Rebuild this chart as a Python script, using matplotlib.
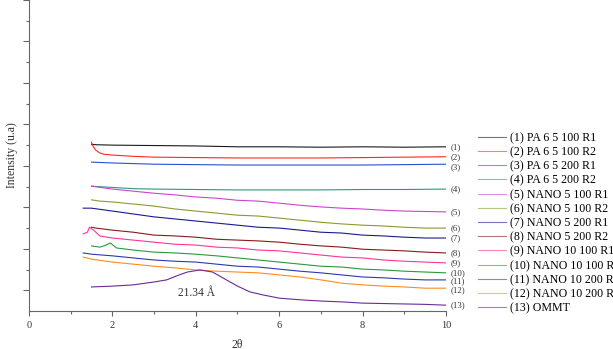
import matplotlib
matplotlib.use("Agg")
import matplotlib.pyplot as plt
from matplotlib.ticker import MultipleLocator, FixedLocator
from matplotlib.lines import Line2D

plt.rcParams['font.family'] = ['Liberation Serif', 'DejaVu Serif']

labels = ["(1) PA 6 5 100 R1", "(2) PA 6 5 100 R2", "(3) PA 6 5 200 R1",
          "(4) PA 6 5 200 R2", "(5) NANO 5 100 R1", "(6) NANO 5 100 R2",
          "(7) NANO 5 200 R1", "(8) NANO 5 200 R2", "(9) NANO 10 100 R1",
          "(10) NANO 10 100 R2", "(11) NANO 10 200 R1", "(12) NANO 10 200 R2",
          "(13) OMMT"]
short = ["(1)", "(2)", "(3)", "(4)", "(5)", "(6)", "(7)", "(8)", "(9)",
         "(10)", "(11)", "(12)", "(13)"]
colors = ['#1a1a1a', '#ff2a1a', '#2a4fd0', '#2a9a80', '#cc44cc', '#8c9a2a',
          '#1a1a90', '#8a1a1a', '#ff3399', '#2a9a3a', '#2a3ab0', '#ff8c1a',
          '#6a2a9a']

x1 = [1.5, 1.6, 2, 3, 4, 5, 6, 7, 8, 9, 10]
y1 = [4.02, 4.01, 4.00, 3.99, 3.98, 3.96, 3.96, 3.95, 3.96, 3.95, 3.96]
x2 = [1.5, 1.52, 1.6, 1.7, 1.8, 2, 2.5, 3, 4, 5, 6, 7, 8, 9, 10]
y2 = [4.07, 4.00, 3.88, 3.81, 3.78, 3.76, 3.73, 3.71, 3.70, 3.69, 3.69, 3.69, 3.70, 3.71, 3.72]
x3 = [1.5, 2, 3, 4, 5, 6, 7, 8, 9, 10]
y3 = [3.59, 3.57, 3.54, 3.53, 3.52, 3.52, 3.52, 3.52, 3.53, 3.54]
x4 = [1.5, 2, 2.5, 3, 4, 5, 6, 7, 8, 9, 10]
y4 = [3.01, 2.98, 2.95, 2.94, 2.93, 2.92, 2.92, 2.92, 2.93, 2.93, 2.94]

xs = [1.5, 2, 2.5, 3, 3.5, 4, 4.5, 5, 5.5, 6, 6.5, 7, 7.5, 8, 8.5, 9, 9.5, 10]
y5 = [3.01, 2.94, 2.89, 2.84, 2.80, 2.75, 2.72, 2.67, 2.65, 2.60, 2.55, 2.51,
      2.48, 2.46, 2.43, 2.41, 2.40, 2.39]
x6 = [1.5, 1.7] + xs[1:]
y6 = [2.68, 2.65, 2.63, 2.58, 2.53, 2.46, 2.41, 2.36, 2.31, 2.29, 2.24, 2.19,
      2.14, 2.10, 2.07, 2.05, 2.02, 2.00, 2.00]
x7 = [1.3] + xs
y7 = [2.48, 2.48, 2.41, 2.34, 2.27, 2.22, 2.17, 2.12, 2.07, 2.02, 2.00, 1.95,
      1.90, 1.88, 1.83, 1.81, 1.78, 1.76, 1.76]
x8 = [1.5, 1.6] + xs[1:]
y8 = [2.02, 2.00, 1.95, 1.90, 1.83, 1.81, 1.78, 1.73, 1.71, 1.69, 1.66, 1.61,
      1.57, 1.54, 1.49, 1.47, 1.45, 1.42, 1.40]
x9 = [1.3, 1.4, 1.45, 1.55, 1.7] + xs[1:]
y9 = [1.86, 1.90, 2.02, 1.95, 1.81, 1.76, 1.71, 1.66, 1.61, 1.59, 1.54, 1.52,
      1.47, 1.45, 1.40, 1.35, 1.30, 1.28, 1.23, 1.20, 1.18, 1.16]
x10 = [1.5, 1.7, 1.8, 1.95, 2.1] + xs[2:]
y10 = [1.57, 1.54, 1.57, 1.64, 1.52, 1.47, 1.42, 1.40, 1.37, 1.33, 1.28, 1.23,
       1.18, 1.13, 1.08, 1.06, 1.01, 0.99, 0.96, 0.94, 0.92]
x11 = [1.3] + xs
y11 = [1.40, 1.37, 1.33, 1.28, 1.23, 1.20, 1.18, 1.13, 1.08, 1.06, 1.01, 0.96,
       0.92, 0.87, 0.82, 0.80, 0.77, 0.75, 0.75]
x12 = [1.3] + xs
y12 = [1.30, 1.25, 1.18, 1.13, 1.08, 1.04, 0.99, 0.96, 0.94, 0.92, 0.87, 0.82,
       0.75, 0.67, 0.63, 0.60, 0.58, 0.55, 0.55]
x13 = [1.5, 2, 2.5, 3, 3.3, 3.6, 3.8, 4.1, 4.4, 4.7, 5.0, 5.3, 5.6, 6, 6.5,
       7, 7.5, 8, 8.5, 9, 9.5, 10]
y13 = [0.58, 0.60, 0.63, 0.70, 0.75, 0.87, 0.94, 0.99, 0.94, 0.77, 0.60, 0.46,
       0.39, 0.31, 0.27, 0.24, 0.22, 0.19, 0.18, 0.17, 0.16, 0.14]

series_x = [x1, x2, x3, x4, xs, x6, x7, x8, x9, x10, x11, x12, x13]
series_y = [y1, y2, y3, y4, y5, y6, y7, y8, y9, y10, y11, y12, y13]
label_dy = [0, 0, -2.2, 0, 0, 0, 0, 0, 0, 0, -0.7, -1.5, 0]

fig = plt.figure(figsize=(6.13, 3.49), dpi=100)
ax = fig.add_axes([29/613, 38/349, 417/613, 311/349])

for xv, yv, c, lab, sl, dy in zip(series_x, series_y, colors, labels, short, label_dy):
    ax.plot(xv, yv, color=c, lw=0.8)
    ax.annotate(sl, xy=(xv[-1], yv[-1]), xytext=(3, dy), textcoords='offset points',
                fontsize=6.3, va='center', ha='left', color='#333333')

ax.text(3.57, 0.43, "21.34 Å", fontsize=8.3, va='center', ha='left', color='#333333')

ax.set_xlim(0, 10)
ax.set_ylim(0, 7.5)
ax.xaxis.set_major_locator(MultipleLocator(2))
ax.xaxis.set_minor_locator(MultipleLocator(1))
ax.yaxis.set_major_locator(FixedLocator([0.5, 1.5, 2.5, 3.5, 4.5, 5.5, 6.5, 7.5]))
ax.yaxis.set_minor_locator(FixedLocator([1, 2, 3, 4, 5, 6, 7]))
ax.set_yticklabels([])
for s in ['top', 'right']:
    ax.spines[s].set_visible(False)
for s in ['left', 'bottom']:
    ax.spines[s].set_color('#666666')
    ax.spines[s].set_linewidth(0.8)
ax.tick_params(axis='both', which='both', direction='out', color='#666666', width=0.8)
ax.tick_params(axis='x', which='major', length=3.5, labelsize=7.5, pad=4, labelcolor='#333333')
ax.tick_params(axis='x', which='minor', length=2)
ax.tick_params(axis='y', which='major', length=4)
ax.tick_params(axis='y', which='minor', length=2)

ax.set_ylabel("Intensity (u.a)", fontsize=8.5, color='#333333', labelpad=0.5)
ax.set_xlabel("2θ", fontsize=8.5, color='#333333', labelpad=6)

handles = [Line2D([], [], color=c, lw=0.8, alpha=0.6) for c in colors]
fig.legend(handles, labels, loc='upper left', bbox_to_anchor=(478/613, 1 - 132/349),
           frameon=False, fontsize=8.6, borderaxespad=0, borderpad=0,
           handlelength=2.35, handletextpad=0.3, labelspacing=0.185)

fig.savefig("out.png", dpi=100)
